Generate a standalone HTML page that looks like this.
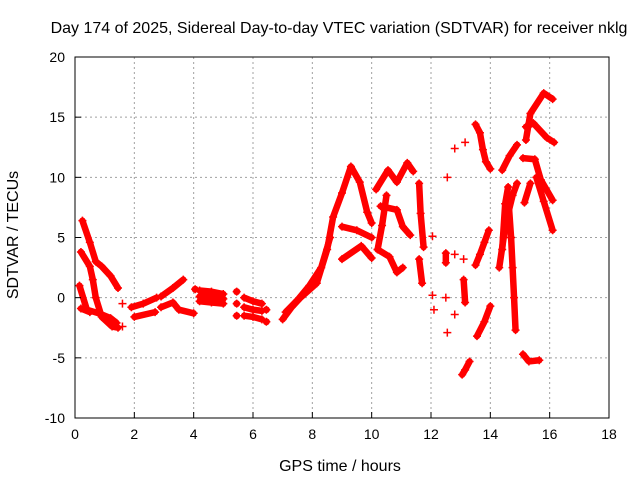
<!DOCTYPE html>
<html><head><meta charset="utf-8"><style>
body{margin:0;background:#fff}
svg{display:block;font-family:"Liberation Sans",sans-serif}
</style></head><body>
<svg id="chart" width="640" height="480">
<text x="339" y="33" text-anchor="middle" font-size="16">Day 174 of 2025, Sidereal Day-to-day VTEC variation (SDTVAR) for receiver nklg</text>
<text x="340" y="471" text-anchor="middle" font-size="16">GPS time / hours</text>
<text transform="translate(18,235) rotate(-90)" text-anchor="middle" font-size="16">SDTVAR / TECUs</text>
<g id="grid"></g><g id="marks"></g><g id="axes"></g>
</svg>
<script>
const xTicks=[0,2,4,6,8,10,12,14,16,18];
const yTicks=[-10,-5,0,5,10,15,20];
const tracks=[
[[0.25,6.4],[0.5,4.6],[0.7,3.0],[0.9,2.6],[1.2,1.8],[1.45,0.8]],
[[0.2,3.8],[0.5,2.6],[0.6,1.5],[0.7,0],[0.9,-1.6],[1.25,-2.4],[1.45,-2.5]],
[[0.15,1],[0.4,-1],[0.8,-1.3],[1.2,-1.7],[1.4,-2.1]],
[[0.2,-0.9],[0.5,-1.2]],
[[1.6,-0.5]],[[1.6,-2.4]],
[[1.9,-0.8],[2.3,-0.5],[2.75,0]],
[[2.0,-1.6],[2.7,-1.2]],
[[2.9,0.1],[3.3,0.8],[3.65,1.5]],
[[2.9,-0.8],[3.3,-0.4],[3.5,-1],[4.0,-1.3]],
[[4.05,0.7]],
[[4.2,0.6],[4.6,0.5],[5.0,0.3]],
[[4.2,0.1],[4.6,0.0],[5.0,-0.1]],
[[4.2,-0.3],[4.6,-0.4],[5.0,-0.5]],
[[5.45,0.5]],[[5.45,-0.5]],[[5.45,-1.5]],
[[5.7,0],[6.0,-0.3],[6.3,-0.5]],
[[5.7,-0.8],[6.0,-1.0],[6.3,-1.1]],
[[5.7,-1.5],[6.0,-1.6],[6.3,-1.8]],
[[6.45,-1]],[[6.45,-2]],
[[7.0,-1.8],[7.3,-0.8],[7.6,0],[8.15,1.2],[8.5,4],[8.7,6.7],[9.0,8.7],[9.3,10.9],[9.6,9.6],[9.85,7.1],[10.0,6.2]],
[[7.1,-1.2],[7.5,-0.2],[7.9,1.0],[8.3,2.5],[8.6,5.0]],
[[9.0,5.9],[9.5,5.6],[10.0,5.0]],
[[9.0,3.2],[9.65,4.3],[10.0,3.3]],
[[10.15,9.0],[10.55,10.6],[10.85,9.6],[11.2,11.2],[11.4,10.5]],
[[10.3,7.6],[10.85,7.3],[11.05,5.9],[11.3,5.2]],
[[10.2,4],[10.35,6],[10.5,8.5]],
[[10.2,4],[10.6,3.4],[10.85,2.1],[11.05,2.5]],
[[11.6,9.5],[11.65,7],[11.75,4.2]],
[[11.6,3.2],[11.7,1.2]],
[[12.05,5.1]],[[12.05,0.2]],[[12.1,-1]],
[[12.55,10.0]],[[13.15,12.9]],[[12.8,12.4]],
[[12.55,-2.9]],[[12.5,3.7],[12.5,2.9]],[[12.8,3.6]],[[13.1,3.2]],[[12.5,0]],[[12.8,-1.4]],
[[13.1,1.5],[13.15,-0.4]],
[[13.05,-6.4],[13.15,-6],[13.3,-5.3]],
[[13.5,14.4],[13.65,13.7],[13.75,12.3],[13.85,11.3],[14.0,10.7]],
[[13.5,2.7],[13.65,3.6],[13.8,4.6],[13.95,5.6]],
[[13.55,-3.2],[13.8,-2],[14.0,-0.7]],
[[14.4,10.6],[14.65,11.8],[14.9,12.7]],
[[14.6,8.5],[14.7,5],[14.75,2.5],[14.8,0],[14.85,-2.7]],
[[14.3,2.5],[14.45,5],[14.6,7],[14.75,8.5],[14.9,9.5]],
[[14.4,4],[14.5,7.8],[14.6,9.2]],
[[15.2,13.1],[15.35,15.3],[15.8,17.0],[16.1,16.5]],
[[15.2,14.2],[15.45,14.5],[15.9,13.3],[16.15,12.9]],
[[15.1,11.6],[15.5,11.5],[15.7,9.8],[16.1,8.1]],
[[15.55,10],[15.8,8],[16.1,5.6]],
[[15.15,7.9],[15.35,9.5]],
[[15.1,-4.7],[15.3,-5.3],[15.65,-5.2]]
];
const L=75,R=609,T=57,B=418;
const X=t=>L+(t-0)/(18-0)*(R-L);
const Y=v=>B-(v+10)/30*(B-T);
const NS="http://www.w3.org/2000/svg";
const grid=document.getElementById('grid'),marks=document.getElementById('marks'),axes=document.getElementById('axes');
function mk(tag,attrs,parent){const e=document.createElementNS(NS,tag);for(const k in attrs)e.setAttribute(k,attrs[k]);parent.appendChild(e);return e;}
xTicks.forEach(t=>{
 if(t>0&&t<18){const g=mk('line',{x1:X(t),x2:X(t),y1:T,y2:B,stroke:'#a0a0a0','stroke-dasharray':'2,3'},grid);
 
 }
 const tk=mk('line',{x1:X(t),x2:X(t),y1:B,y2:B-6,stroke:'#000'},axes);
 
 
 const lb=mk('text',{x:X(t),y:B+21,'text-anchor':'middle','font-size':14},axes);
 lb.textContent=t;
 
 
});
yTicks.forEach(v=>{
 if(v>-10&&v<20){const g=mk('line',{x1:L,x2:R,y1:Y(v),y2:Y(v),stroke:'#a0a0a0','stroke-dasharray':'2,3'},grid);
 
 }
 const tk=mk('line',{x1:L,x2:L+6,y1:Y(v),y2:Y(v),stroke:'#000'},axes);
 
 
 const lb=mk('text',{x:L-10,y:Y(v)+5,'text-anchor':'end','font-size':14},axes);
 lb.textContent=v;
 
 
});
const fr=mk('rect',{x:L,y:T,width:R-L,height:B-T,fill:'none',stroke:'#000'},axes);


tracks.forEach(tr=>{
 if(tr.length>1){const p=mk('polyline',{points:tr.map(d=>X(d[0])+','+Y(d[1])).join(' '),fill:'none',stroke:'#ff0000','stroke-width':6.5,'stroke-linecap':'round','stroke-linejoin':'round'},marks);
 
 }
 tr.forEach(d=>{const x=X(d[0]),y=Y(d[1]);
  if(tr.length===1 && d[0]>=4 && d[0]<=6.5){const c=mk('circle',{cx:x,cy:y,r:3.5,fill:'#ff0000'},marks);
   
   }
  const m=mk('path',{d:`M${x-4},${y}H${x+4}M${x},${y-4}V${y+4}`,stroke:'#ff0000','stroke-width':1.5},marks);
  
  
 });
});
</script>
</body></html>
